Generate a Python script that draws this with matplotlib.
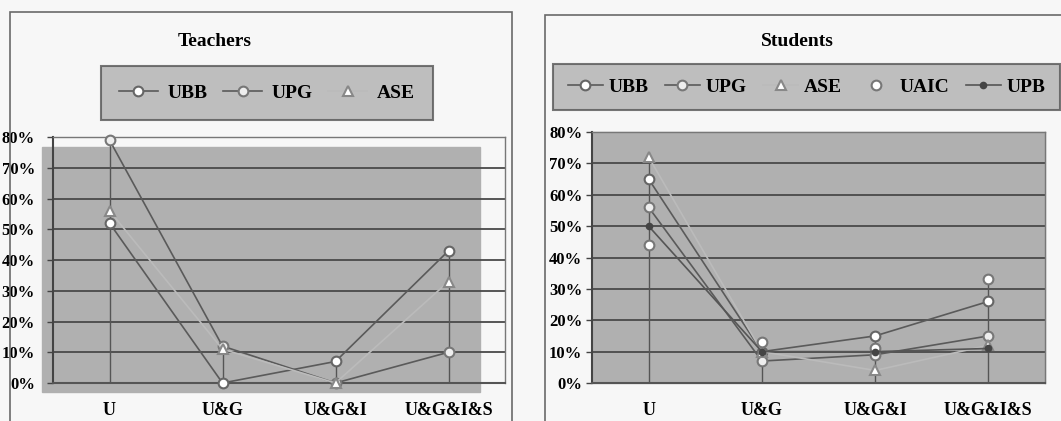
import matplotlib.pyplot as plt
from matplotlib.patches import Rectangle
from matplotlib.lines import Line2D

categories = ["U", "U&G", "U&G&I", "U&G&I&S"]
y_ticks = [0, 10, 20, 30, 40, 50, 60, 70, 80]

# Teachers (%)
t_names = ["UBB", "UPG", "ASE"]
t_ubb = [52, 0, 7, 43]
t_upg = [79, 12, 0, 10]
t_ase = [56, 11, 0, 33]

# Students (%)
s_names = ["UBB", "UPG", "ASE", "UAIC", "UPB"]
s_ubb = [65, 10, 15, 26]
s_upg = [56, 7, 9, 15]
s_ase = [72, 10, 4, 12]
s_uaic = [44, 13, 11, 33]
s_upb = [50, 10, 10, 11]

W, H = 1061, 421
plt.rcParams['font.family'] = ['Liberation Serif', 'DejaVu Serif']
plt.rcParams['font.weight'] = 'bold'

bg = '#f7f7f7'
plot_gray = '#b0b0b0'
grid_col = '#4a4a4a'
line_col = '#5a5a5a'

fig = plt.figure(figsize=(W / 100, H / 100), dpi=100, facecolor=bg)


def px(x0, y0, x1, y1):
    # pixel box -> figure fraction [left, bottom, width, height]
    return [x0 / W, 1 - y1 / H, (x1 - x0) / W, (y1 - y0) / H]


def panel_border(x0, y0, x1, y1):
    fig.patches.append(Rectangle((x0 / W, 1 - y1 / H), (x1 - x0) / W, (y1 - y0) / H,
                                 transform=fig.transFigure, fill=False,
                                 edgecolor='#6a6a6a', lw=1.2))


# marker / line style per series
styles = {
    "UBB": dict(marker='o', mfc='white', mec='#666666', ms=7, ls='-'),
    "UPG": dict(marker='o', mfc='#eeeeee', mec='#777777', ms=7, ls='-'),
    "ASE": dict(marker='^', mfc='white', mec='#888888', ms=7, ls='-'),
    "UAIC": dict(marker='o', mfc='white', mec='#777777', ms=7, ls='none'),
    "UPB": dict(marker='o', mfc='#444444', mec='#444444', ms=4, ls='-'),
}
line_colors = {"UBB": line_col, "UPG": line_col, "ASE": '#bbbbbb',
               "UAIC": line_col, "UPB": '#555555'}


def draw(ax, names, series, gray_box):
    x = range(len(categories))
    ax.set_facecolor('none')
    ax.add_patch(Rectangle(gray_box[:2], gray_box[2], gray_box[3],
                           transform=ax.transAxes, color=plot_gray,
                           zorder=0, clip_on=False))
    for v in y_ticks:
        ax.axhline(v, color=grid_col, lw=1.3, zorder=1)
    # drop lines from the highest value to the axis
    for i in x:
        top = max(s[i] for s in series)
        ax.vlines(i, 0, top, color='#555555', lw=1.0, zorder=2)
    for name, vals in zip(names, series):
        st = styles[name]
        ax.plot(x, vals, color=line_colors[name], lw=1.2, marker=st['marker'],
                ms=st['ms'], mfc=st['mfc'], mec=st['mec'], mew=1.5,
                ls=st['ls'], zorder=3, clip_on=False)
    ax.set_xlim(-0.5, 3.5)
    ax.set_ylim(0, 80)
    ax.set_yticks(y_ticks)
    ax.set_yticklabels([f"{v}%" for v in y_ticks], fontsize=12, fontweight='bold')
    ax.set_xticks(list(x))
    ax.set_xticklabels(categories, fontsize=13, fontweight='bold')
    ax.tick_params(axis='x', length=0, pad=14)
    ax.tick_params(axis='y', length=4, width=1, color='#444444', pad=3)
    for side in ['top', 'right']:
        ax.spines[side].set_color('#777777')
        ax.spines[side].set_linewidth(1.0)
    ax.spines['left'].set_color('#444444')
    ax.spines['left'].set_linewidth(1.5)
    ax.spines['bottom'].set_color('#555555')
    ax.spines['bottom'].set_linewidth(1.5)


def handles(names):
    out = []
    for n in names:
        st = styles[n]
        out.append(Line2D([], [], color=line_colors[n], lw=1.2, marker=st['marker'],
                          ms=st['ms'], mfc=st['mfc'], mec=st['mec'], mew=1.5,
                          ls=st['ls']))
    return out


def style_legend(leg):
    leg.get_frame().set_facecolor(plot_gray)
    leg.get_frame().set_edgecolor('#555555')
    leg.get_frame().set_linewidth(1.5)


# Teachers panel
panel_border(10, 12, 512, 430)
fig.text(215 / W, 1 - 42 / H, "Teachers", ha='center', va='center',
         fontsize=14, fontweight='bold')
ax1 = fig.add_axes(px(53, 137, 505, 383))
draw(ax1, t_names, [t_ubb, t_upg, t_ase], (-0.025, -0.035, 0.97, 0.995))
ax1.tick_params(axis='y', pad=9)
leg1 = fig.legend(handles(t_names), t_names, loc='center',
                  bbox_to_anchor=(267 / W, 1 - 93 / H), ncol=3,
                  prop={'weight': 'bold', 'size': 14}, frameon=True,
                  fancybox=False, borderpad=0.95, handlelength=2.0,
                  columnspacing=0.8, handletextpad=0.5)
style_legend(leg1)

# Students panel
panel_border(545, 15, 1070, 430)
fig.text(797 / W, 1 - 42 / H, "Students", ha='center', va='center',
         fontsize=14, fontweight='bold')
ax2 = fig.add_axes(px(592, 132, 1045, 383))
draw(ax2, s_names, [s_ubb, s_upg, s_ase, s_uaic, s_upb], (0, 0, 1, 1))
leg2 = fig.legend(handles(s_names), s_names, loc='center left',
                  bbox_to_anchor=(553 / W, 1 - 87 / H), ncol=5,
                  prop={'weight': 'bold', 'size': 14}, frameon=True,
                  fancybox=False, borderpad=0.75, borderaxespad=0,
                  handlelength=1.8, columnspacing=0.85, handletextpad=0.3)
style_legend(leg2)

fig.savefig("out.png", dpi=100, facecolor=bg)
